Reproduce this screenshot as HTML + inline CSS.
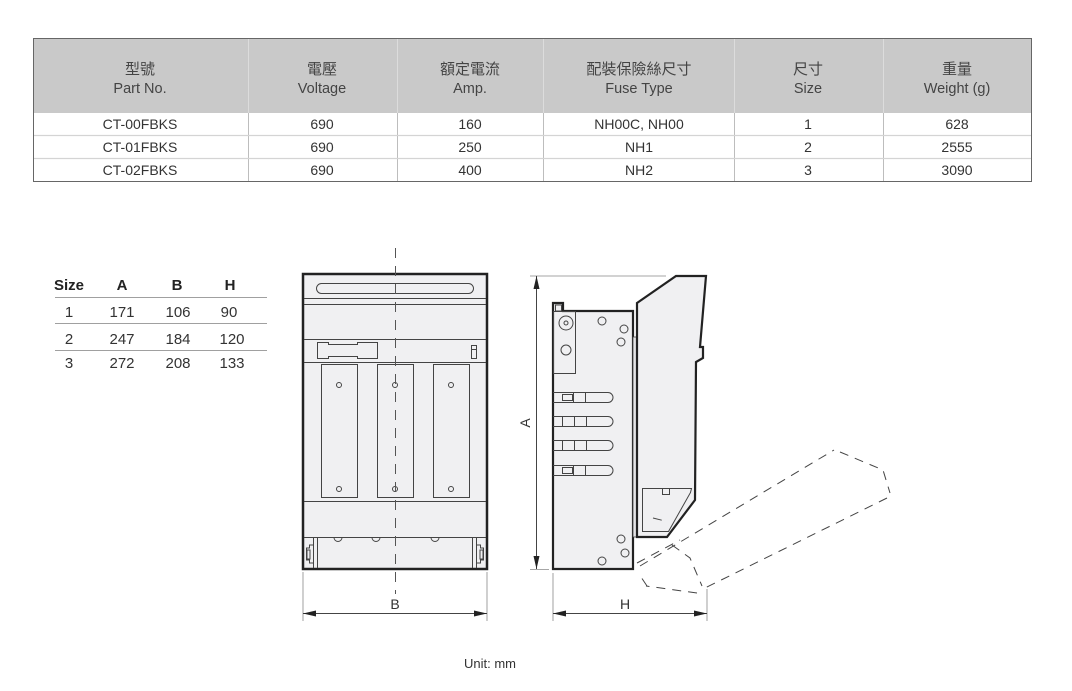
<!DOCTYPE html>
<html><head><meta charset="utf-8"><style>
html,body{margin:0;padding:0;background:#fff;}
svg{display:block;}
text{font-family:"Liberation Sans","Noto Sans CJK TC",sans-serif;}
</style></head><body>
<svg width="1072" height="691" viewBox="0 0 1072 691" xmlns="http://www.w3.org/2000/svg">
<!-- Spec table -->
<rect x="33" y="38" width="999" height="75" fill="#c9c9c9"/>
<g stroke="#dcdcdc" stroke-width="1">
<line x1="248.5" y1="38" x2="248.5" y2="113"/><line x1="397.5" y1="38" x2="397.5" y2="113"/><line x1="543.5" y1="38" x2="543.5" y2="113"/><line x1="734.5" y1="38" x2="734.5" y2="113"/><line x1="883.5" y1="38" x2="883.5" y2="113"/>
</g>
<g stroke="#bdbdbd" stroke-width="1">
<line x1="248.5" y1="113" x2="248.5" y2="181"/><line x1="397.5" y1="113" x2="397.5" y2="181"/><line x1="543.5" y1="113" x2="543.5" y2="181"/><line x1="734.5" y1="113" x2="734.5" y2="181"/><line x1="883.5" y1="113" x2="883.5" y2="181"/>
</g>
<g stroke="#d4d4d4" stroke-width="1.2">
<line x1="33" y1="135.5" x2="1032" y2="135.5"/><line x1="33" y1="158.5" x2="1032" y2="158.5"/>
</g>
<rect x="33.5" y="38.5" width="998" height="143" fill="none" stroke="#666" stroke-width="1"/>
<g fill="#444" text-anchor="middle">
<g font-size="15"><text x="140" y="74">型號</text><text x="322" y="74">電壓</text><text x="470" y="74">額定電流</text><text x="639" y="74">配裝保險絲尺寸</text><text x="808" y="74">尺寸</text><text x="957" y="74">重量</text></g>
<g font-size="14.5"><text x="140" y="93">Part No.</text><text x="322" y="93">Voltage</text><text x="470" y="93">Amp.</text><text x="639" y="93">Fuse Type</text><text x="808" y="93">Size</text><text x="957" y="93">Weight (g)</text></g>
</g>
<g fill="#333" text-anchor="middle" font-size="14">
<text x="140" y="129">CT-00FBKS</text><text x="322" y="129">690</text><text x="470" y="129">160</text><text x="639" y="129">NH00C, NH00</text><text x="808" y="129">1</text><text x="957" y="129">628</text>
<text x="140" y="152">CT-01FBKS</text><text x="322" y="152">690</text><text x="470" y="152">250</text><text x="639" y="152">NH1</text><text x="808" y="152">2</text><text x="957" y="152">2555</text>
<text x="140" y="175">CT-02FBKS</text><text x="322" y="175">690</text><text x="470" y="175">400</text><text x="639" y="175">NH2</text><text x="808" y="175">3</text><text x="957" y="175">3090</text>
</g>

<!-- Dimension table -->
<g font-size="15" fill="#222" font-weight="bold" text-anchor="middle">
<text x="69" y="290">Size</text><text x="122" y="290">A</text><text x="177" y="290">B</text><text x="230" y="290">H</text>
</g>
<g stroke="#a0a0a0" stroke-width="1"><line x1="55" y1="297.5" x2="267" y2="297.5"/><line x1="55" y1="323.5" x2="267" y2="323.5"/><line x1="55" y1="350.5" x2="267" y2="350.5"/></g>
<g font-size="15" fill="#333" text-anchor="middle">
<text x="69" y="317">1</text><text x="122" y="317">171</text><text x="178" y="317">106</text><text x="229" y="317">90</text>
<text x="69" y="344">2</text><text x="122" y="344">247</text><text x="178" y="344">184</text><text x="232" y="344">120</text>
<text x="69" y="368">3</text><text x="122" y="368">272</text><text x="178" y="368">208</text><text x="232" y="368">133</text>
</g>

<!-- Front view -->
<rect x="303" y="274" width="184" height="295" fill="#f0f0f2" stroke="#222" stroke-width="2.5"/>
<g stroke="#444" stroke-width="1" fill="none">
<rect x="316.5" y="283.5" width="157" height="10" rx="5"/>
<line x1="304" y1="298.5" x2="486" y2="298.5"/><line x1="304" y1="304.5" x2="486" y2="304.5"/>
<line x1="304" y1="339.5" x2="486" y2="339.5"/>
<polygon points="317.5,342.5 328.5,342.5 328.5,344.5 357.5,344.5 357.5,342.5 377.5,342.5 377.5,358.5 357.5,358.5 357.5,356.5 328.5,356.5 328.5,358.5 317.5,358.5"/>
<rect x="471.5" y="345.5" width="5" height="13"/><line x1="471.5" y1="349.5" x2="476.5" y2="349.5"/>
<line x1="304" y1="362.5" x2="486" y2="362.5"/>
<rect x="321.5" y="364.5" width="36" height="133"/><rect x="377.5" y="364.5" width="36" height="133"/><rect x="433.5" y="364.5" width="36" height="133"/>
<circle cx="339" cy="385" r="2.5"/><circle cx="395" cy="385" r="2.5"/><circle cx="451" cy="385" r="2.5"/>
<circle cx="339" cy="489" r="2.5"/><circle cx="395" cy="489" r="2.5"/><circle cx="451" cy="489" r="2.5"/>
<line x1="304" y1="501.5" x2="486" y2="501.5"/>
<line x1="304" y1="537.5" x2="486" y2="537.5"/>
<path d="M334,537.5 a4,4 0 0 0 8,0 M372,537.5 a4,4 0 0 0 8,0 M431,537.5 a4,4 0 0 0 8,0"/>
<line x1="313.5" y1="537.5" x2="313.5" y2="568"/><line x1="317.5" y1="537.5" x2="317.5" y2="568"/>
<path d="M313.5,545 h-4 v3 h-3 v12 h3 v3 h4"/><rect x="307" y="550" width="3" height="9"/>
<line x1="472.5" y1="537.5" x2="472.5" y2="568"/><line x1="476.5" y1="537.5" x2="476.5" y2="568"/>
<path d="M476.5,545 h4 v3 h3 v12 h-3 v3 h-4"/><rect x="480" y="550" width="3" height="9"/>
</g>
<line x1="395.5" y1="248" x2="395.5" y2="594" stroke="#555" stroke-width="1" stroke-dasharray="10 8"/>
<g stroke="#888" stroke-width="0.8"><line x1="303" y1="572" x2="303" y2="621"/><line x1="487" y1="572" x2="487" y2="621"/></g>
<line x1="303" y1="613.5" x2="487" y2="613.5" stroke="#444" stroke-width="1"/>
<polygon points="303,613.5 316,610.5 316,616.5" fill="#222"/><polygon points="487,613.5 474,610.5 474,616.5" fill="#222"/>
<text x="395" y="609" font-size="14" fill="#333" text-anchor="middle">B</text>

<!-- Side view -->
<g stroke="#888" stroke-width="0.8"><line x1="530" y1="276" x2="666" y2="276"/><line x1="530" y1="569.5" x2="549" y2="569.5"/>
<line x1="553" y1="573" x2="553" y2="621"/><line x1="707" y1="589" x2="707" y2="621"/></g>
<line x1="536.5" y1="276" x2="536.5" y2="569" stroke="#444" stroke-width="1"/>
<polygon points="536.5,276 533.5,289 539.5,289" fill="#222"/><polygon points="536.5,569 533.5,556 539.5,556" fill="#222"/>
<text x="0" y="0" font-size="14" fill="#333" text-anchor="middle" transform="translate(530,423) rotate(-90)">A</text>

<path d="M553,569 L553,303 L563,303 L563,311 L633,311 L633,569 Z" fill="#f0f0f2" stroke="#222" stroke-width="2.2"/>
<rect x="633" y="337" width="4" height="200" fill="#e4e4e6" stroke="#444" stroke-width="0.8"/>
<polygon points="637,303 676,276 706,276 700,347 703,347 703,358 696,362 695,500 667,537 637,537" fill="#f0f0f2" stroke="#222" stroke-width="2.2" stroke-linejoin="miter"/>
<g stroke="#444" stroke-width="1" fill="none">
<rect x="555.5" y="305" width="6" height="6"/>
<rect x="553.5" y="311.5" width="22" height="62"/>
<circle cx="566" cy="323" r="7"/><circle cx="566" cy="323" r="2"/>
<circle cx="566" cy="350" r="5"/>
<circle cx="602" cy="321" r="4"/><circle cx="624" cy="329" r="4"/><circle cx="621" cy="342" r="4"/>
<path d="M553,392.5 H608 A5,5 0 0 1 608,402.5 H553"/>
<path d="M553,416.5 H608 A5,5 0 0 1 608,426.5 H553"/>
<path d="M553,440.5 H608 A5,5 0 0 1 608,450.5 H553"/>
<path d="M553,465.5 H608 A5,5 0 0 1 608,475.5 H553"/>
<rect x="562.5" y="394.5" width="10" height="6"/><line x1="573.5" y1="392.5" x2="573.5" y2="402.5"/><line x1="585.5" y1="392.5" x2="585.5" y2="402.5"/>
<line x1="562.5" y1="416.5" x2="562.5" y2="426.5"/><line x1="574.5" y1="416.5" x2="574.5" y2="426.5"/><line x1="586.5" y1="416.5" x2="586.5" y2="426.5"/>
<line x1="562.5" y1="440.5" x2="562.5" y2="450.5"/><line x1="574.5" y1="440.5" x2="574.5" y2="450.5"/><line x1="586.5" y1="440.5" x2="586.5" y2="450.5"/>
<rect x="562.5" y="467.5" width="10" height="6"/><line x1="573.5" y1="465.5" x2="573.5" y2="475.5"/><line x1="585.5" y1="465.5" x2="585.5" y2="475.5"/>
<circle cx="621" cy="539" r="4"/><circle cx="625" cy="553" r="4"/><circle cx="602" cy="561" r="4"/>
<polygon points="642.5,488.5 691.5,488.5 690.5,492.5 668.5,531.5 642.5,531.5"/>
<rect x="662.5" y="488.5" width="7" height="6"/>
</g>
<g stroke="#444" stroke-width="1" fill="none" stroke-dasharray="9 7">
<line x1="640" y1="566" x2="834" y2="450"/>
<polyline points="840,452 883,470 890,493"/>
<line x1="887" y1="498" x2="705" y2="588"/>
<line x1="697" y1="593" x2="646" y2="586"/>
<line x1="647" y1="586" x2="639" y2="574"/>
<line x1="637" y1="563" x2="680" y2="540"/>
<polyline points="672,545 690,558 702,586"/>
<line x1="653" y1="518" x2="665" y2="521"/>
</g>
<line x1="553" y1="613.5" x2="707" y2="613.5" stroke="#444" stroke-width="1"/>
<polygon points="553,613.5 566,610.5 566,616.5" fill="#222"/><polygon points="707,613.5 694,610.5 694,616.5" fill="#222"/>
<text x="625" y="609" font-size="14" fill="#333" text-anchor="middle">H</text>

<text x="490" y="668" font-size="13" fill="#333" text-anchor="middle">Unit: mm</text>
</svg>
</body></html>
